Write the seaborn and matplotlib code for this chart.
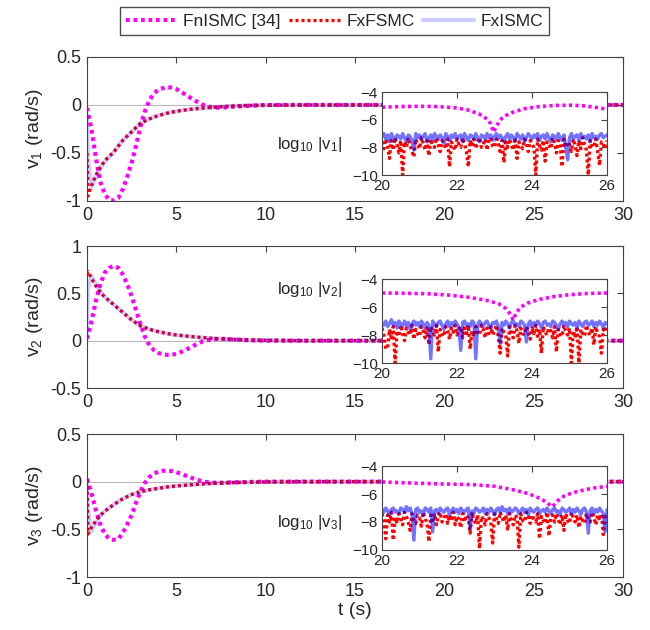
import numpy as np
import matplotlib
matplotlib.use("Agg")
import matplotlib.pyplot as plt
import seaborn as sns

# ---- main curves (t in seconds) ----
t_fn = [0, 0.25, 0.5, 0.75, 1.0, 1.25, 1.5, 1.75, 2.0, 2.25, 2.5, 2.75, 3.0, 3.25, 3.5,
        3.75, 4.0, 4.25, 4.5, 4.75, 5.0, 5.5, 6.0, 6.5, 7.0, 7.5, 8.0, 9.0, 10.0, 30.0]
v1_fn = [-0.03, -0.25, -0.55, -0.8, -0.93, -0.99, -0.995, -0.97, -0.88, -0.75, -0.6, -0.42, -0.22, -0.06, 0.05,
         0.12, 0.16, 0.175, 0.185, 0.18, 0.165, 0.11, 0.05, 0.0, -0.025, -0.03, -0.02, -0.01, 0, 0]
v2_fn = [0.02, 0.2, 0.42, 0.6, 0.72, 0.77, 0.79, 0.77, 0.7, 0.6, 0.47, 0.32, 0.17, 0.04, -0.05,
         -0.1, -0.13, -0.145, -0.15, -0.148, -0.14, -0.1, -0.05, -0.005, 0.015, 0.02, 0.015, 0.005, 0, 0]
v3_fn = [0.03, -0.12, -0.3, -0.45, -0.55, -0.6, -0.61, -0.6, -0.54, -0.45, -0.35, -0.22, -0.1, -0.01, 0.05,
         0.085, 0.105, 0.115, 0.115, 0.11, 0.1, 0.065, 0.03, 0.0, -0.01, -0.012, -0.008, -0.003, 0, 0]

t_fx = [0, 0.05, 0.25, 0.5, 0.75, 1.0, 1.5, 2.0, 2.5, 3.0, 3.5, 4.0, 4.5, 5.0, 6.0, 7.0, 8.0, 9.0, 10.0, 12.0, 30.0]
v1_ff = [-0.5, -0.95, -0.84, -0.73, -0.65, -0.58, -0.49, -0.37, -0.28, -0.19, -0.145, -0.11, -0.085, -0.065,
         -0.04, -0.025, -0.012, -0.006, -0.003, 0, 0]
v1_fi = [-0.1, -0.55, -0.85, -0.75, -0.66, -0.59, -0.49, -0.37, -0.28, -0.19, -0.145, -0.11, -0.085, -0.065,
         -0.04, -0.025, -0.012, -0.006, -0.003, 0, 0]
v2_ff = [0.7, 0.73, 0.66, 0.58, 0.51, 0.46, 0.38, 0.3, 0.22, 0.155, 0.12, 0.095, 0.075, 0.06,
         0.04, 0.025, 0.015, 0.008, 0.004, 0, 0]
v2_fi = [0.05, 0.55, 0.68, 0.6, 0.52, 0.46, 0.38, 0.3, 0.22, 0.155, 0.12, 0.095, 0.075, 0.06,
         0.04, 0.025, 0.015, 0.008, 0.004, 0, 0]
v3_ff = [0.02, -0.55, -0.48, -0.41, -0.35, -0.31, -0.24, -0.18, -0.135, -0.105, -0.085, -0.07, -0.055, -0.045,
         -0.03, -0.018, -0.01, -0.006, -0.003, 0, 0]
v3_fi = [0.02, -0.3, -0.52, -0.43, -0.36, -0.31, -0.24, -0.18, -0.135, -0.105, -0.085, -0.07, -0.055, -0.045,
         -0.03, -0.018, -0.01, -0.006, -0.003, 0, 0]

# ---- insets: log10 |v| for t in [20, 26] ----
ti1_fn = [20, 20.5, 21, 21.5, 22, 22.3, 22.6, 22.8, 22.9, 22.97, 23.05, 23.15, 23.3, 23.5, 23.8,
          24.2, 24.6, 25, 25.4, 25.8, 26]
l1_fn = [-5.1, -5.05, -5.03, -5.05, -5.15, -5.3, -5.6, -5.95, -6.3, -6.9, -6.5, -6.0, -5.7, -5.45, -5.2,
         -5.05, -4.97, -4.95, -5.0, -5.15, -5.25]
ti2_fn = [20, 20.6, 21.2, 21.8, 22.3, 22.8, 23.1, 23.3, 23.42, 23.5, 23.58, 23.7, 23.9, 24.2, 24.6,
          25.0, 25.5, 26]
l2_fn = [-5.0, -5.02, -5.05, -5.15, -5.3, -5.53, -5.75, -6.1, -6.5, -6.93, -6.4, -6.0, -5.7, -5.45, -5.25,
         -5.12, -5.03, -5.0]
ti3_fn = [20, 20.8, 21.6, 22.4, 23.0, 23.5, 23.9, 24.2, 24.4, 24.52, 24.6, 24.7, 24.85, 25.1, 25.4,
          25.7, 26]
l3_fn = [-5.14, -5.22, -5.28, -5.33, -5.45, -5.7, -5.97, -6.3, -6.6, -6.91, -6.75, -6.45, -6.15, -5.9, -5.7,
         -5.55, -5.45]

t_zoom = np.linspace(20, 26, 121)  # sample instants of the inset series

l1_ff = [-7.6, -8.1, -7.4, -7.9, -8.8, -7.5, -8.2, -7.3, -7.8, -8.4,
         -7.5, -10.0, -7.6, -8.0, -7.3, -7.9, -8.3, -8.7, -7.4, -7.8,
         -8.1, -7.3, -7.7, -8.2, -7.5, -8.6, -7.4, -7.9, -8.0, -7.3,
         -7.8, -8.3, -7.5, -7.7, -8.1, -7.4, -9.4, -7.6, -7.9, -8.2,
         -7.4, -7.8, -8.0, -7.3, -7.7, -8.3, -9.4, -7.5, -7.9, -7.4,
         -8.1, -7.6, -7.3, -8.0, -7.8, -7.4, -8.2, -7.5, -7.3, -7.9,
         -8.0, -7.4, -7.7, -8.3, -7.5, -9.1, -7.6, -8.0, -7.4, -7.8,
         -8.2, -7.3, -8.8, -7.6, -7.9, -8.1, -7.4, -7.7, -8.3, -7.5,
         -7.8, -8.0, -10.0, -7.4, -7.9, -8.2, -7.5, -9.0, -7.6, -7.8,
         -8.1, -7.3, -7.7, -8.4, -7.5, -7.9, -9.4, -7.4, -8.0, -7.6,
         -7.8, -8.3, -7.4, -7.9, -8.6, -7.5, -8.1, -7.3, -7.8, -8.2,
         -10.0, -7.5, -7.9, -8.0, -7.4, -8.3, -9.3, -7.6, -7.8, -8.1,
         -7.5]
l1_fi = [-7.2, -7.0, -7.4, -7.1, -7.6, -7.0, -7.3, -7.5, -7.1, -7.2,
         -7.4, -7.0, -7.3, -7.6, -7.1, -7.2, -7.5, -8.2, -7.0, -7.3,
         -7.1, -7.4, -7.2, -7.0, -7.6, -7.3, -7.1, -7.5, -7.0, -7.2,
         -7.4, -7.1, -7.3, -7.7, -7.0, -7.2, -7.5, -7.1, -7.3, -7.0,
         -7.4, -7.2, -7.1, -7.6, -7.0, -7.3, -7.5, -7.1, -7.2, -7.4,
         -7.0, -7.3, -7.6, -7.1, -7.2, -7.4, -7.0, -7.3, -7.1, -7.5,
         -7.2, -7.0, -7.4, -7.1, -7.3, -7.6, -7.2, -7.0, -7.4, -7.1,
         -7.3, -7.5, -7.0, -7.2, -7.4, -7.1, -7.6, -7.3, -7.0, -7.2,
         -7.4, -7.1, -7.3, -7.0, -7.5, -7.2, -7.1, -7.4, -7.0, -7.3,
         -7.6, -7.1, -7.2, -7.4, -7.0, -7.3, -7.5, -7.1, -8.0, -8.9,
         -7.3, -7.0, -7.4, -7.2, -7.1, -7.5, -7.0, -7.3, -7.2, -7.4,
         -7.1, -7.6, -7.0, -7.3, -7.2, -7.4, -7.1, -7.0, -7.3, -7.2,
         -7.1]
l2_ff = [-7.5, -8.0, -9.0, -8.9, -7.6, -8.2, -7.4, -10.0, -7.7, -8.1,
         -7.3, -7.9, -8.4, -7.5, -7.8, -8.0, -7.3, -8.3, -7.6, -7.9,
         -8.1, -7.4, -7.7, -8.2, -7.5, -8.7, -7.4, -7.8, -8.0, -7.3,
         -9.2, -7.6, -7.9, -8.1, -7.4, -7.7, -8.3, -7.5, -7.8, -7.3,
         -8.0, -7.6, -7.4, -8.2, -7.5, -7.9, -7.3, -9.0, -7.7, -8.1,
         -7.4, -7.8, -8.0, -7.3, -7.6, -8.2, -7.5, -7.9, -7.4, -8.0,
         -7.7, -7.3, -8.1, -9.3, -7.5, -7.8, -8.0, -9.5, -7.4, -7.9,
         -8.2, -7.3, -7.7, -8.6, -7.5, -7.9, -8.0, -7.4, -7.8, -8.3,
         -7.5, -7.9, -7.3, -8.1, -7.6, -9.3, -7.4, -7.8, -8.0, -7.5,
         -7.7, -8.2, -7.4, -9.2, -7.6, -7.9, -8.1, -7.3, -7.8, -8.0,
         -7.5, -10.0, -7.7, -8.2, -7.4, -10.0, -7.6, -7.9, -8.1, -7.3,
         -7.8, -8.0, -7.5, -8.7, -7.4, -7.9, -8.1, -9.3, -7.6, -7.8,
         -7.4]
l2_fi = [-7.1, -7.3, -7.0, -7.4, -7.2, -6.9, -7.3, -7.1, -7.5, -7.0,
         -7.2, -7.4, -7.0, -7.3, -7.1, -7.6, -7.2, -7.0, -7.3, -7.1,
         -7.4, -7.0, -7.2, -7.5, -7.1, -7.3, -9.7, -7.0, -7.2, -7.4,
         -7.1, -7.0, -7.3, -7.6, -7.2, -7.0, -7.4, -7.1, -7.3, -7.0,
         -7.2, -7.5, -9.1, -7.1, -7.0, -7.3, -7.2, -7.4, -7.0, -7.1,
         -9.7, -7.3, -7.0, -7.2, -7.4, -7.1, -7.0, -7.3, -7.5, -7.1,
         -7.2, -7.0, -7.4, -8.6, -7.1, -7.3, -7.0, -7.2, -7.5, -7.1,
         -7.0, -7.3, -7.2, -7.4, -7.0, -7.1, -7.3, -8.5, -7.2, -7.0,
         -7.4, -7.1, -7.3, -7.0, -7.2, -7.5, -7.1, -7.0, -7.3, -7.2,
         -7.4, -7.0, -7.1, -7.3, -7.6, -7.2, -7.0, -7.3, -7.1, -7.4,
         -7.0, -7.2, -7.3, -7.1, -7.5, -7.0, -7.2, -7.4, -7.1, -7.0,
         -7.3, -7.2, -7.0, -7.4, -7.1, -7.3, -7.0, -7.2, -7.5, -7.1,
         -7.2]
l3_ff = [-7.4, -7.9, -9.2, -7.5, -8.0, -7.3, -9.3, -7.7, -8.1, -7.4,
         -7.8, -8.2, -7.3, -7.6, -8.0, -8.6, -7.4, -7.9, -8.1, -7.5,
         -7.7, -8.3, -7.3, -7.8, -8.0, -9.4, -7.5, -7.9, -7.4, -8.2,
         -7.6, -7.3, -8.0, -7.8, -7.4, -8.1, -7.5, -7.9, -7.3, -8.2,
         -7.6, -7.8, -8.4, -7.4, -8.0, -7.5, -7.7, -8.8, -7.3, -7.9,
         -8.1, -7.5, -9.9, -7.6, -7.8, -8.2, -7.4, -7.7, -8.0, -9.5,
         -7.4, -7.8, -8.1, -7.3, -7.7, -8.0, -7.5, -8.6, -7.4, -7.9,
         -8.2, -7.5, -7.7, -9.8, -7.4, -7.9, -8.0, -7.3, -7.6, -8.1,
         -7.5, -7.8, -8.0, -7.4, -9.2, -7.6, -7.9, -8.1, -7.3, -9.0,
         -7.7, -7.5, -8.0, -7.4, -7.8, -8.2, -7.5, -8.6, -7.4, -7.9,
         -8.1, -7.3, -7.7, -8.0, -7.5, -8.4, -7.6, -7.9, -8.1, -7.4,
         -7.8, -8.0, -7.3, -7.7, -8.2, -7.5, -7.9, -7.4, -8.9, -7.6,
         -7.8]
l3_fi = [-7.1, -7.3, -7.0, -7.2, -7.5, -7.1, -7.0, -7.3, -7.2, -7.4,
         -7.0, -7.1, -7.3, -6.9, -7.2, -7.0, -7.4, -9.3, -7.1, -7.0,
         -7.3, -7.2, -7.5, -7.0, -7.1, -7.3, -7.0, -8.7, -7.2, -7.1,
         -7.4, -7.0, -7.2, -7.3, -7.1, -7.0, -7.5, -7.2, -7.0, -7.3,
         -7.1, -7.4, -7.0, -7.2, -7.3, -7.1, -7.0, -8.5, -7.2, -7.4,
         -7.0, -7.1, -7.3, -7.2, -7.0, -7.4, -7.1, -7.3, -7.0, -7.2,
         -7.5, -7.1, -7.0, -7.3, -6.9, -7.2, -7.1, -7.4, -7.0, -7.3,
         -7.2, -7.0, -7.1, -7.4, -7.2, -7.0, -7.3, -7.1, -7.5, -7.0,
         -7.2, -7.3, -7.1, -7.0, -7.4, -7.2, -7.1, -7.3, -7.0, -7.2,
         -7.4, -7.1, -7.0, -7.3, -7.2, -7.5, -7.0, -7.1, -7.3, -7.2,
         -7.0, -7.4, -7.1, -7.3, -7.0, -7.2, -7.5, -7.1, -7.0, -7.3,
         -8.8, -7.2, -7.0, -7.4, -7.1, -7.3, -7.0, -7.2, -7.4, -8.7,
         -7.1]

legend_labels = ["FnISMC [34]", "FxFSMC", "FxISMC"]
ylabels = ["v$_1$ (rad/s)", "v$_2$ (rad/s)", "v$_3$ (rad/s)"]
inset_labels = ["log$_{10}$ |v$_1$|", "log$_{10}$ |v$_2$|", "log$_{10}$ |v$_3$|"]
ylims = [(-1, 0.5), (-0.5, 1), (-1, 0.5)]

sns.set_theme(style="white")
plt.rcParams["font.family"] = ["Liberation Sans", "DejaVu Sans"]
plt.rcParams["mathtext.default"] = "regular"

MAG, RED, BLU = "#ff00ff", "#ff0000", "#0000ff"
EDGE = "#444444"
DOTS = (0, (0.9, 0.9))

fig = plt.figure(figsize=(6.5, 6.3), dpi=100)

main_pos = [[0.1338, 0.681, 0.8246, 0.2286],
            [0.1338, 0.3841, 0.8246, 0.2254],
            [0.1338, 0.0841, 0.8246, 0.227]]
inset_pos = [[0.5877, 0.7222, 0.3462, 0.1317],
             [0.5877, 0.4238, 0.3462, 0.1333],
             [0.5877, 0.127, 0.3462, 0.1333]]
label_y = [145, 290, 522]

main_data = [(v1_fn, v1_ff, v1_fi), (v2_fn, v2_ff, v2_fi), (v3_fn, v3_ff, v3_fi)]
inset_data = [(ti1_fn, l1_fn, l1_ff, l1_fi), (ti2_fn, l2_fn, l2_ff, l2_fi), (ti3_fn, l3_fn, l3_ff, l3_fi)]


def style_axes(ax, size):
    for s in ax.spines.values():
        s.set_color(EDGE)
        s.set_linewidth(0.8)
    ax.tick_params(direction="in", top=True, right=True, length=4, width=0.8,
                   color=EDGE, labelsize=size, pad=4)
    ax.grid(False)


handles = None
for k in range(3):
    ax = fig.add_axes(main_pos[k])
    fn, ff, fi = main_data[k]
    ax.axhline(0, color="#b8b8b8", lw=0.8, zorder=0)
    sns.lineplot(x=t_fn, y=fn, ax=ax, color=MAG, lw=3.0, linestyle=DOTS,
                 label=legend_labels[0], sort=False)
    sns.lineplot(x=t_fx, y=ff, ax=ax, color=RED, lw=2.4, linestyle=DOTS,
                 label=legend_labels[1], sort=False)
    sns.lineplot(x=t_fx, y=fi, ax=ax, color=BLU, lw=3.0, alpha=0.2,
                 label=legend_labels[2], sort=False)
    ax.set_xlim(0, 30)
    ax.set_ylim(*ylims[k])
    yt = np.arange(ylims[k][0], ylims[k][1] + 0.01, 0.5)
    ax.set_xticks([0, 5, 10, 15, 20, 25, 30])
    ax.set_yticks(yt)
    ax.set_yticklabels([f"{v:g}" for v in yt])
    ax.set_ylabel(ylabels[k], fontsize=14, labelpad=4)
    ax.set_xlabel("t (s)" if k == 2 else "", fontsize=14, labelpad=2)
    style_axes(ax, 13)
    if handles is None:
        handles, _ = ax.get_legend_handles_labels()
    ax.get_legend().remove()

    # zoomed inset on log scale
    ins = fig.add_axes(inset_pos[k])
    ins.set_facecolor("white")
    ti_fn, lfn, lff, lfi = inset_data[k]
    sns.lineplot(x=ti_fn, y=lfn, ax=ins, color=MAG, lw=2.6, linestyle=DOTS, sort=False)
    sns.lineplot(x=t_zoom, y=lff, ax=ins, color=RED, lw=2.4, linestyle=DOTS, sort=False)
    sns.lineplot(x=t_zoom, y=lfi, ax=ins, color=BLU, lw=2.4, alpha=0.55, sort=False)
    ins.set_xlim(20, 26)
    ins.set_ylim(-10, -4)
    ins.set_xticks([20, 22, 24, 26])
    ins.set_yticks([-10, -8, -6, -4])
    ins.set_xlabel("")
    ins.set_ylabel("")
    style_axes(ins, 11)
    ins.tick_params(axis="x", pad=3)
    ins.tick_params(axis="y", pad=3)
    fig.text(277 / 650, 1 - label_y[k] / 630, inset_labels[k], fontsize=12,
             ha="left", va="center")

fig.legend(handles, legend_labels, loc="center", bbox_to_anchor=(334.5 / 650, 1 - 21 / 630),
           ncol=3, fontsize=12.5, frameon=True, fancybox=False, edgecolor="#222222",
           handlelength=2.9, columnspacing=0.5, handletextpad=0.4, borderpad=0.35,
           borderaxespad=0.0)

fig.savefig("out.png", dpi=100)
